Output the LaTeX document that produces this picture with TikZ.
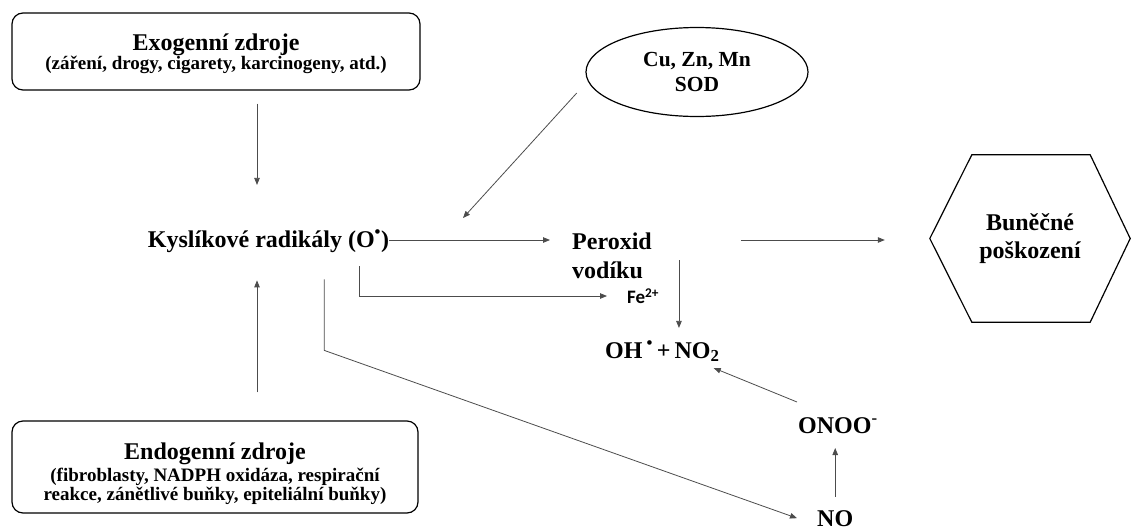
\documentclass[tikz,border=0pt]{standalone}
\usepackage{fontspec}
\setmainfont{Liberation Serif}
\newfontfamily\fefont{Carlito}
\usetikzlibrary{shapes.geometric,arrows.meta,calc}
\begin{document}
\begin{tikzpicture}[x=1pt,y=-1pt,
  arr/.style={-{Triangle[length=7pt,width=5.5pt]}, line width=0.8pt, draw=black!70},
  box/.style={draw, line width=1.2pt, rounded corners=11pt, inner sep=0pt},
  subt/.style={inner sep=0pt, anchor=base, font=\bfseries\fontsize{19}{18.5}\selectfont},
  txt/.style={inner sep=0pt, font=\bfseries\fontsize{24}{29}\selectfont},
]
\useasboundingbox (0,0) rectangle (1131,530);

% boxes
\node[box, minimum width=408pt, minimum height=77pt] (exo) at (216,51.5) {};
\node[txt, anchor=base] (exot) at ([yshift=1.5pt]exo.center) {Exogenní zdroje};
\node[subt] (exos) at ([yshift=-17.5pt]exo.center) {(záření, drogy, cigarety, karcinogeny, atd.)};

\node[box, minimum width=406pt, minimum height=92pt] (endo) at (215,467) {};
\node[txt, anchor=base] (endot) at ([yshift=8pt]endo.center) {Endogenní zdroje};
\node[subt, align=center] (endos) at ([yshift=-33pt]endo.center) {(fibroblasty, NADPH oxidáza, respirační\\reakce, zánětlivé buňky, epiteliální buňky)};

\node[ellipse, draw, line width=1.2pt, minimum width=222pt, minimum height=89pt, inner sep=0pt,
  align=center, font=\bfseries\fontsize{21.5}{25}\selectfont] (sod) at (697,72) {Cu, Zn, Mn\\SOD};

\node[align=center, minimum width=200pt, minimum height=167pt, inner sep=0pt,
  font=\bfseries\fontsize{24}{28}\selectfont] (hex) at (1030,238.5) {Buněčné\\poškození};
\draw[line width=1.2pt] (hex.west) -- ([xshift=42pt]hex.north west) -- ([xshift=-40pt]hex.north east)
  -- (hex.east) -- ([xshift=-40pt]hex.south east) -- ([xshift=42pt]hex.south west) -- cycle;

% texts
\node[txt, anchor=base] (kys) at (268.5,247) {Kyslíkové radikály (O\textsuperscript{•})};
\node[txt, align=left, anchor=north west] (per) at (572,233) {Peroxid\\vodíku};
\node[inner sep=0pt, anchor=west, font=\fefont\bfseries\fontsize{19}{22}\selectfont] (fe) at (627,296) {Fe\textsuperscript{2+}};
\node[txt, anchor=base west] (ohno) at (605,358) {OH\,\textsuperscript{•}\,+\,NO\textsubscript{2}};
\node[txt, anchor=base west] (onoo) at (798,433) {ONOO\textsuperscript{-}};
\node[txt, anchor=base west] (no) at (817,526) {NO};

% connectors
\coordinate (d1) at ([xshift=41pt]exo.south);
\draw[arr, shorten <=13pt, shorten >=45pt] (d1) -- (d1 |- kys.north);
\coordinate (u1) at ([xshift=42pt]endo.north);
\draw[arr, shorten <=28pt, shorten >=28pt] (u1) -- (u1 |- kys.south);

\draw[arr, shorten >=22pt] (kys.east |- 0,240) -- (per.west |- 0,240);
\draw[arr, shorten <=89pt, shorten >=45pt] (per.east |- 0,240) -- (hex.west |- 0,240);

\coordinate (sodtip) at (463,218);
\draw[arr] ([shift={(-18pt,-3pt)}]sod.190) -- (sodtip);

\coordinate (f1) at ([shift={(-30pt,-14pt)}]kys.south east);
\draw[arr, shorten >=20pt] (f1) |- (fe.west);

\coordinate (l1) at ([shift={(-65pt,-27pt)}]kys.south east);
\draw[arr] (l1) -- ++(0,71) -- ([xshift=-20pt]no.west);

\draw[arr, shorten <=13pt, shorten >=15pt] (no.north) -- (no.north |- onoo.base);
\draw[arr] ([shift={(-1pt,31pt)}]onoo.base west) -- ([shift={(-6pt,-10pt)}]ohno.base east);

\coordinate (pv) at ([shift={(27pt,-4pt)}]per.east);
\draw[arr, shorten >=13pt] (pv) -- (pv |- ohno.north);
\end{tikzpicture}
\end{document}
